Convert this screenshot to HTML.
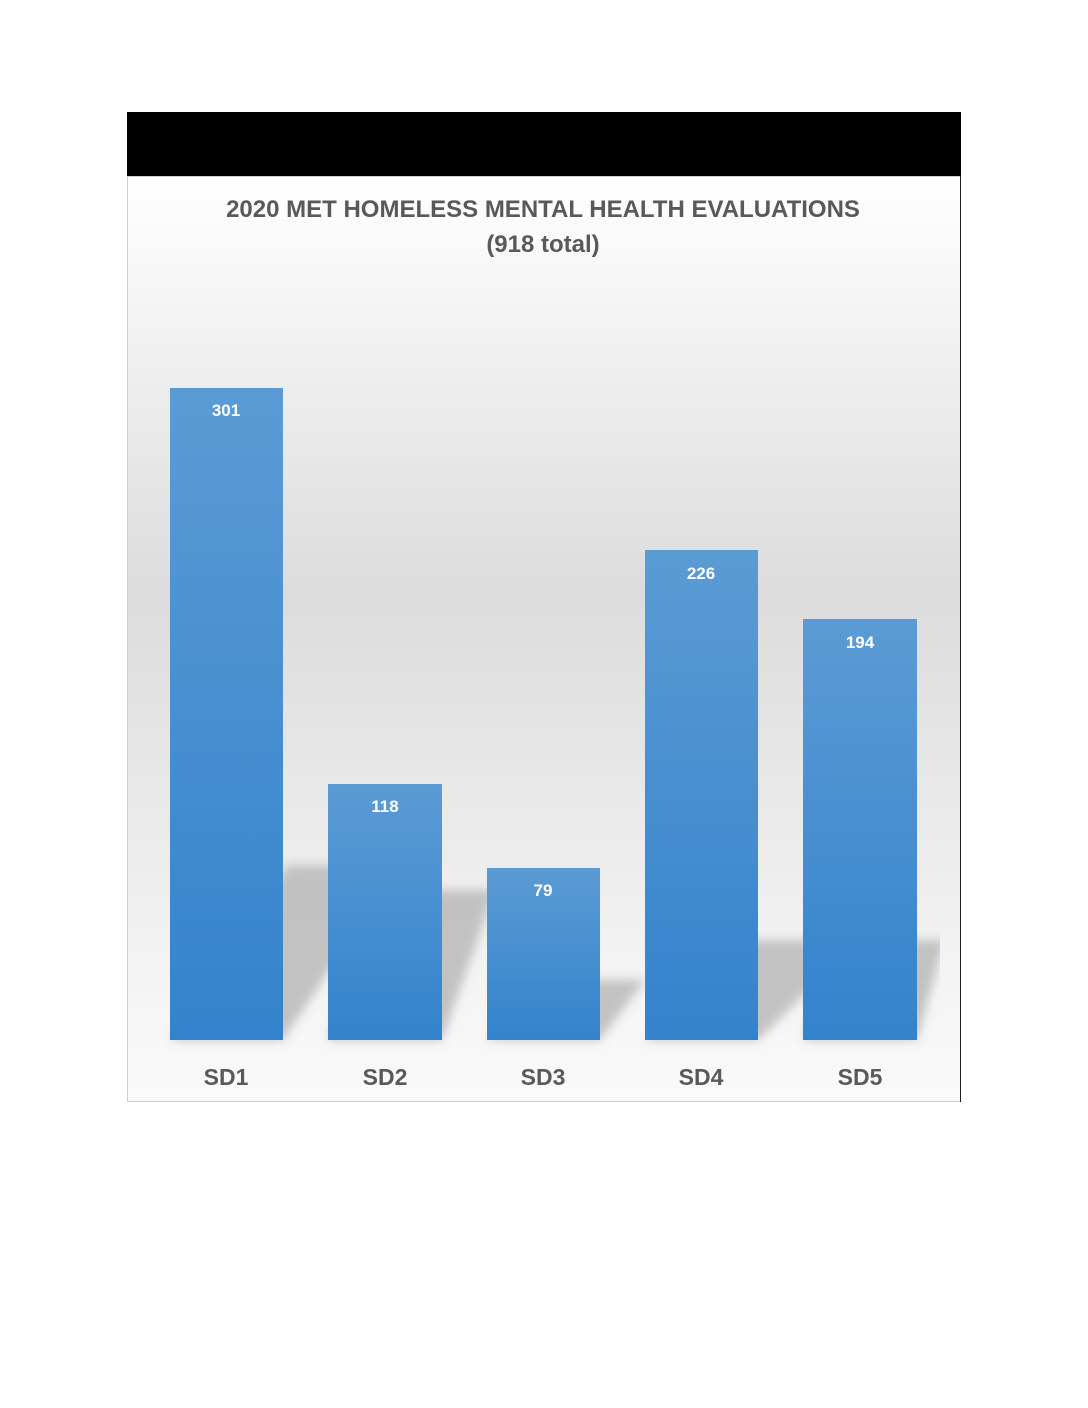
<!DOCTYPE html>
<html><head><style>
body{margin:0;width:1088px;height:1408px;background:#fff;position:relative;font-family:"Liberation Sans",sans-serif;overflow:hidden}
</style></head><body>
<svg width="1088" height="1408" style="position:absolute;left:0;top:0">
<defs>
<linearGradient id="bg" x1="0" y1="0" x2="0" y2="1">
<stop offset="0" stop-color="#ffffff"/><stop offset="0.45" stop-color="#dcdcdc"/><stop offset="0.85" stop-color="#f3f3f3"/><stop offset="1" stop-color="#fafafa"/>
</linearGradient>
<linearGradient id="bar" x1="0" y1="0" x2="0" y2="1">
<stop offset="0" stop-color="#5b9bd5"/><stop offset="1" stop-color="#3383cc"/>
</linearGradient>
<filter id="bl" x="-20%" y="-20%" width="140%" height="140%"><feGaussianBlur stdDeviation="5"/></filter>
<clipPath id="pc"><rect x="128" y="177" width="812" height="925"/></clipPath>
</defs>
<rect x="127" y="112" width="834" height="64" fill="#000"/>
<rect x="127.5" y="176.5" width="833" height="925" fill="url(#bg)" stroke="#d0d0d0"/>
<line x1="960.5" y1="176" x2="960.5" y2="1102" stroke="#222"/>
<g clip-path="url(#pc)" fill="#bdbdbd" filter="url(#bl)" opacity="0.9">
<polygon points="170,1040 283,1040 400,865 287,865"/>
<polygon points="328,1040 442,1040 495,890 381,890"/>
<polygon points="487,1040 600,1040 645,980 532,980"/>
<polygon points="645,1040 758,1040 860,940 747,940"/>
<polygon points="803,1040 917,1040 945,940 830,940"/>
</g>
<g fill="url(#bar)">
<rect x="170" y="388" width="113" height="652"/>
<rect x="328" y="784" width="114" height="256"/>
<rect x="487" y="868" width="113" height="172"/>
<rect x="645" y="550" width="113" height="490"/>
<rect x="803" y="619" width="114" height="421"/>
</g>
<g fill="#fff" font-size="17" font-weight="bold" text-anchor="middle">
<text x="226" y="416">301</text><text x="385" y="812">118</text><text x="543" y="896">79</text><text x="701" y="579">226</text><text x="860" y="648">194</text>
</g>
<g fill="#595959" font-size="23" font-weight="bold" text-anchor="middle">
<text x="226" y="1085">SD1</text><text x="385" y="1085">SD2</text><text x="543" y="1085">SD3</text><text x="701" y="1085">SD4</text><text x="860" y="1085">SD5</text>
</g>
<g fill="#595959" font-size="24" font-weight="bold" text-anchor="middle">
<text x="543" y="217">2020 MET HOMELESS MENTAL HEALTH EVALUATIONS</text>
<text x="543" y="252">(918 total)</text>
</g>
</svg>
</body></html>
